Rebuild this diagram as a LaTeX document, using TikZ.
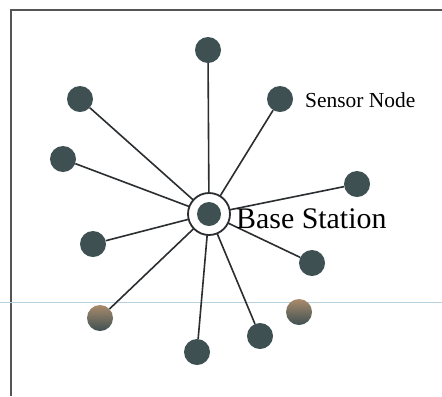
\documentclass[tikz,border=0pt]{standalone}
\usepackage{fontspec}
\setmainfont{Liberation Serif}
\begin{document}
\begin{tikzpicture}[x=1bp,y=-1bp,
  sensor/.style={circle,fill=nodegray,minimum size=26bp,inner sep=0pt},
  sensortint/.style={circle,top color=tanbrown,bottom color=nodegray,minimum size=26bp,inner sep=0pt},
  link/.style={draw=linegray,line width=1.6bp},
  ring/.style={circle,draw=linegray,line width=1.8bp,fill=white,minimum size=42bp,inner sep=0pt},
  core/.style={circle,fill=nodegray,minimum size=24bp,inner sep=0pt}]
\definecolor{nodegray}{HTML}{3E5052}
\definecolor{tanbrown}{HTML}{A98B6C}
\definecolor{linegray}{HTML}{2A2E30}
\definecolor{framegray}{HTML}{555555}
\definecolor{rulerblue}{HTML}{B8D0E0}
\useasboundingbox (0,0) rectangle (442,396);
\fill[white] (0,0) rectangle (442,396);

% frame around the figure
\coordinate (fb) at (11,396);
\coordinate (fc) at (11,10);
\coordinate (fr) at (442,10);
\draw[framegray,line width=1.4bp] (fb) -- (fc) -- (fr);

% faint horizontal rule
\coordinate (rl) at (0,302);
\coordinate (rr) at (442,302);
\draw[rulerblue,line width=1bp] (rl) -- (rr);

% base station position
\coordinate (bs) at (209,214);

% sensor nodes
\node[sensor] (s1) at (208,50) {};
\node[sensor] (s2) at (80,99) {};
\node[sensor] (s3) at (280,99) {};
\node[sensor] (s4) at (63,159) {};
\node[sensor] (s5) at (357,184) {};
\node[sensor] (s6) at (93,244) {};
\node[sensor] (s7) at (312,263) {};
\node[sensortint] (s8) at (100,318) {};
\node[sensortint] (s9) at (299,312) {};
\node[sensor] (s10) at (197,352) {};
\node[sensor] (s11) at (260,336) {};

% links to the base station
\foreach \s in {s1,s2,s3,s4,s5,s6,s7,s8,s10,s11}
  \path[link] (bs) -- (\s);

% base station
\node[ring] (ring) at (bs) {};
\node[core] (base) at (bs) {};

% labels
\node[anchor=base west,inner sep=0pt,font=\fontsize{21.5}{24}\selectfont] (lsn) at (305,107) {Sensor Node};
\node[anchor=base west,inner sep=0pt,font=\fontsize{30}{34}\selectfont] (lbs) at (236,228) {Base Station};
\end{tikzpicture}
\end{document}
